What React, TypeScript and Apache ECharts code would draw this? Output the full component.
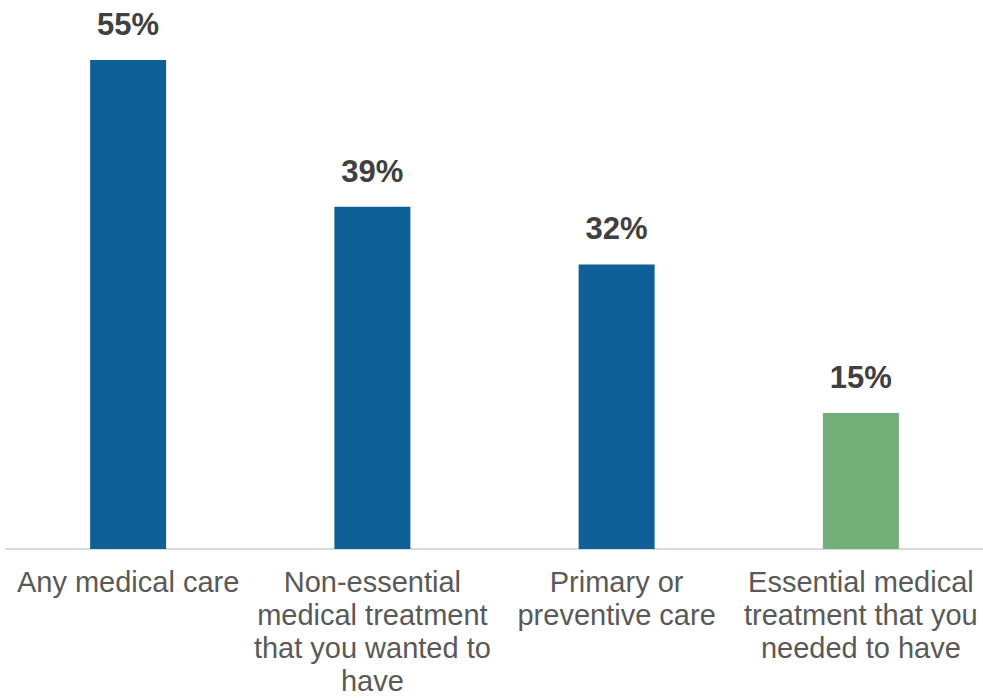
import React, { useEffect, useRef } from "react";
import * as echarts from "echarts";

const categories = [
  "Any medical care",
  "Non-essential\nmedical treatment\nthat you wanted to\nhave",
  "Primary or\npreventive care",
  "Essential medical\ntreatment that you\nneeded to have",
];
const values = [55, 38.5, 32, 15.3];
const barColors = ["#0F6096", "#0F6096", "#0F6096", "#73AE79"];

export default function App() {
  const ref = useRef<HTMLDivElement>(null);
  useEffect(() => {
    document.body.style.margin = "0";
    const chart = echarts.init(ref.current!, null, { renderer: "svg" });
    chart.setOption({
      animation: false,
      grid: {
        left: 6,
        right: 0,
        top: 15.5,
        bottom: 149,
        containLabel: false,
        outerBoundsMode: "none",
      },
      xAxis: {
        type: "category",
        data: categories,
        axisLine: { lineStyle: { color: "#D9D9D9", width: 2 } },
        axisTick: { show: false },
        axisLabel: {
          interval: 0,
          color: "#595959",
          fontFamily: "Liberation Sans, Arial, sans-serif",
          fontSize: 29,
          lineHeight: 33,
          margin: 16,
        },
      },
      yAxis: {
        type: "value",
        min: 0,
        max: 60,
        show: false,
        splitLine: { show: false },
      },
      series: [
        {
          type: "bar",
          barWidth: 76,
          data: values.map((v, i) => ({ value: v, itemStyle: { color: barColors[i] } })),
          label: {
            show: true,
            position: "top",
            distance: 20,
            formatter: (p: any) => Math.round(p.value) + "%",
            color: "#404040",
            fontWeight: "bold",
            fontFamily: "Liberation Sans, Arial, sans-serif",
            fontSize: 31,
          },
        },
      ],
    });
    return () => chart.dispose();
  }, []);
  return <div ref={ref} style={{ width: 983, height: 698 }} />;
}
